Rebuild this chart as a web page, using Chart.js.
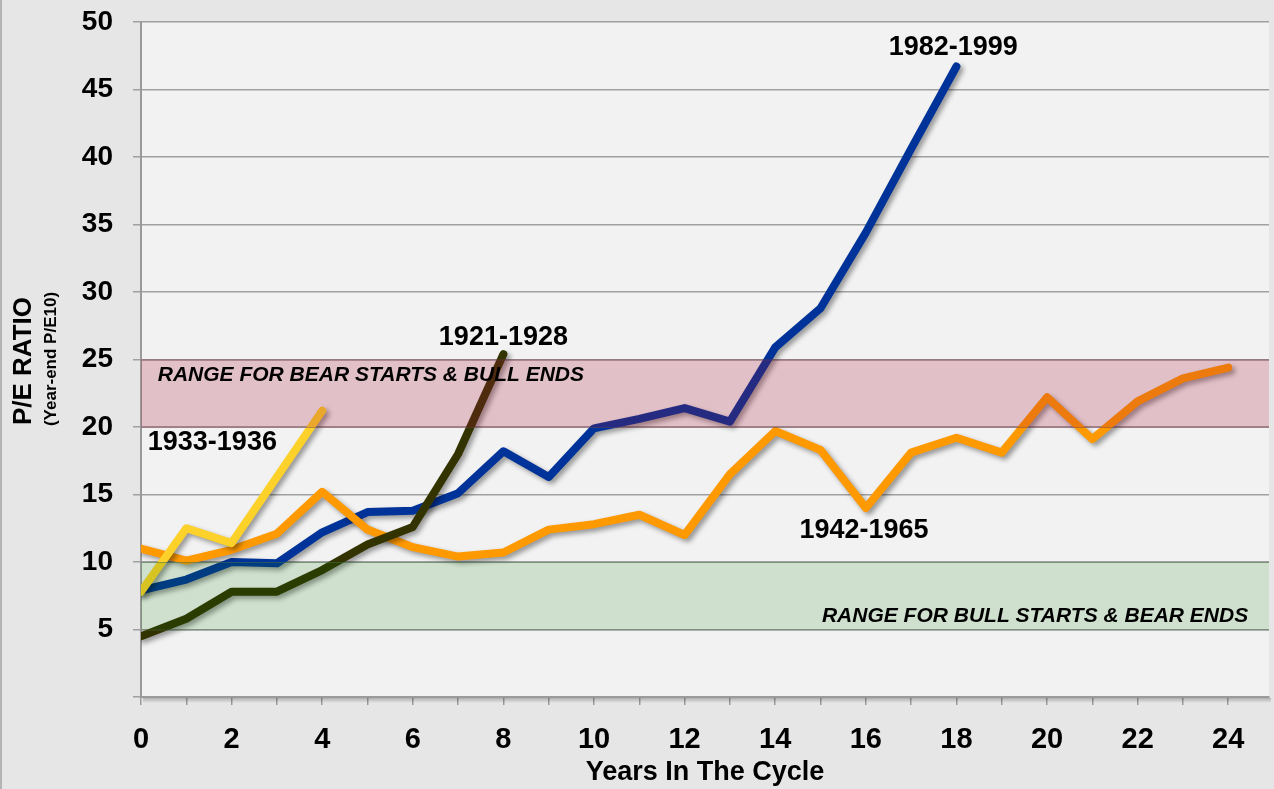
<!DOCTYPE html>
<html>
<head>
<meta charset="utf-8">
<title>P/E Ratio by Years In The Cycle</title>
<style>
  html, body { margin: 0; padding: 0; background: #e6e6e6; }
  #wrap { width: 1274px; height: 789px; position: relative; }
</style>
<script src="https://cdn.jsdelivr.net/npm/chart.js@4.4.1/dist/chart.umd.min.js"></script>
</head>
<body>
<div id="wrap"><canvas id="peChart" width="1274" height="789"></canvas></div>
<script>
// years in the cycle (x axis)
const years = [0, 1, 2, 3, 4, 5, 6, 7, 8, 9, 10, 11, 12, 13, 14, 15, 16, 17, 18, 19, 20, 21, 22, 23, 24];

// P/E10 at year end
const pe1921to1928 = [4.5, 5.8, 7.8, 7.8, 9.4, 11.3, 12.6, 18.0, 25.4];
const pe1933to1936 = [7.8, 12.5, 11.4, 16.3, 21.2];
const pe1942to1965 = [11.0, 10.1, 10.9, 12.1, 15.2, 12.4, 11.1, 10.4, 10.7, 12.4, 12.8, 13.5, 12.0,
                      16.5, 19.7, 18.3, 14.0, 18.1, 19.2, 18.1, 22.2, 19.1, 21.9, 23.6, 24.4];
const pe1982to1999 = [7.9, 8.7, 10.0, 9.9, 12.2, 13.7, 13.8, 15.1, 18.2, 16.3, 19.9, 20.6, 21.4,
                      20.4, 25.9, 28.8, 34.4, 40.6, 46.7];

// shaded ranges [low, high]
const bearStartRange = [20, 25];
const bullStartRange = [5, 10];

const FONT = '"Liberation Sans", Arial, sans-serif';

function toPoints(values) {
  return values.map((v, i) => ({ x: years[i], y: v }));
}

function makeLine(label, values, color, order) {
  return {
    label: label,
    data: toPoints(values),
    borderColor: color,
    backgroundColor: color,
    borderWidth: 8,
    borderCapStyle: "round",
    borderJoinStyle: "round",
    pointRadius: 0,
    pointHoverRadius: 0,
    tension: 0,
    fill: false,
    order: order,
    clip: { left: 0, top: 12, right: 12, bottom: 12 },
  };
}

// backgrounds: outer panel and plot area
const backgroundPlugin = {
  id: "backgrounds",
  beforeDraw(chart) {
    const { ctx, chartArea } = chart;
    ctx.save();
    ctx.fillStyle = "#e6e6e6";
    ctx.fillRect(0, 0, chart.width, chart.height);
    ctx.fillStyle = "#b4b4b4";
    ctx.fillRect(0, 0, 2, chart.height);
    ctx.fillStyle = "#f2f2f2";
    ctx.fillRect(chartArea.left, chartArea.top, chartArea.right - chartArea.left, chartArea.bottom - chartArea.top);
    ctx.restore();
  },
  beforeDatasetsDraw(chart) {
    // soft shadow under the x axis line
    const { ctx, chartArea } = chart;
    ctx.save();
    const g = ctx.createLinearGradient(0, chartArea.bottom, 0, chartArea.bottom + 6);
    g.addColorStop(0, "rgba(0,0,0,0.28)");
    g.addColorStop(1, "rgba(0,0,0,0)");
    ctx.fillStyle = g;
    ctx.fillRect(chartArea.left + 2, chartArea.bottom + 1, chartArea.right - chartArea.left, 6);
    ctx.restore();
  },
};

// drop shadow on every line
const shadowPlugin = {
  id: "lineShadow",
  beforeDatasetDraw(chart) {
    const ctx = chart.ctx;
    ctx.save();
    ctx.shadowColor = "rgba(0,0,0,0.38)";
    ctx.shadowBlur = 5;
    ctx.shadowOffsetX = 3;
    ctx.shadowOffsetY = 3;
  },
  afterDatasetDraw(chart) {
    chart.ctx.restore();
  },
};

// translucent range bands laid over the lines
const bandPlugin = {
  id: "bands",
  afterDatasetsDraw(chart) {
    const { ctx, chartArea, scales } = chart;
    const y = scales.y;
    const bands = [
      { range: bearStartRange, fill: "rgba(170,20,55,0.225)", edge: "rgba(110,60,75,0.5)" },
      { range: bullStartRange, fill: "rgba(0,118,0,0.145)", edge: "rgba(70,110,70,0.5)" },
    ];
    ctx.save();
    bands.forEach((b) => {
      const top = y.getPixelForValue(b.range[1]);
      const bottom = y.getPixelForValue(b.range[0]);
      ctx.fillStyle = b.fill;
      ctx.fillRect(chartArea.left, top, chartArea.right - chartArea.left, bottom - top);
      ctx.strokeStyle = b.edge;
      ctx.lineWidth = 1;
      ctx.beginPath();
      ctx.moveTo(chartArea.left, top + 0.5);
      ctx.lineTo(chartArea.right, top + 0.5);
      ctx.moveTo(chartArea.left, bottom + 0.5);
      ctx.lineTo(chartArea.right, bottom + 0.5);
      ctx.stroke();
    });
    ctx.restore();
  },
};

// series names, range captions and the y axis title
const notesPlugin = {
  id: "notes",
  afterDraw(chart) {
    const { ctx, scales } = chart;
    const xs = scales.x, ys = scales.y;
    const notes = chart.options.plugins.notes.items;
    ctx.save();
    ctx.fillStyle = "#000";
    ctx.textBaseline = "middle";
    notes.forEach((n) => {
      ctx.font = n.font;
      ctx.textAlign = n.align;
      ctx.fillText(n.text, xs.getPixelForValue(n.x), ys.getPixelForValue(n.y));
    });

    // y axis title, rotated
    ctx.translate(24, 361);
    ctx.rotate(-Math.PI / 2);
    ctx.textAlign = "center";
    ctx.font = "bold 26px " + FONT;
    ctx.fillText("P/E RATIO", 0, 0);
    ctx.font = "bold 17px " + FONT;
    ctx.fillText("(Year-end P/E10)", 2, 27);
    ctx.restore();
  },
};

const ctx = document.getElementById("peChart").getContext("2d");

new Chart(ctx, {
  type: "line",
  data: {
    datasets: [
      makeLine("1933-1936", pe1933to1936, "#fcd22a", 1),
      makeLine("1921-1928", pe1921to1928, "#333300", 2),
      makeLine("1942-1965", pe1942to1965, "#ff9900", 3),
      makeLine("1982-1999", pe1982to1999, "#003399", 4),
    ],
  },
  options: {
    responsive: false,
    devicePixelRatio: 1,
    animation: false,
    layout: {
      padding: { top: 22, right: 5, left: 0, bottom: 0 },
    },
    plugins: {
      legend: { display: false },
      tooltip: { enabled: false },
      notes: {
        items: [
          { text: "1982-1999", x: 17.93, y: 48.1, align: "center", font: "bold 27px " + FONT },
          { text: "1921-1928", x: 8.0, y: 26.6, align: "center", font: "bold 27px " + FONT },
          { text: "1933-1936", x: 0.15, y: 18.85, align: "left", font: "bold 27px " + FONT },
          { text: "1942-1965", x: 15.96, y: 12.3, align: "center", font: "bold 27px " + FONT },
          { text: "RANGE FOR BEAR STARTS & BULL ENDS", x: 0.37, y: 23.8, align: "left", font: "italic bold 21px " + FONT },
          { text: "RANGE FOR BULL STARTS & BEAR ENDS", x: 24.44, y: 5.96, align: "right", font: "italic bold 21px " + FONT },
        ],
      },
    },
    scales: {
      x: {
        type: "linear",
        min: 0,
        max: 24.9,
        afterFit(scale) {
          scale.height = 92;
          scale.paddingLeft = 0;
          scale.paddingRight = 0;
        },
        afterBuildTicks(scale) {
          scale.ticks = years.map((v) => ({ value: v }));
        },
        border: { display: true, color: "#9a9a9a", width: 2 },
        grid: {
          drawOnChartArea: false,
          drawTicks: true,
          tickLength: 8,
          color: "#9a9a9a",
          lineWidth: 1.5,
        },
        ticks: {
          autoSkip: false,
          maxRotation: 0,
          padding: 18,
          color: "#000",
          font: { family: FONT, size: 29, weight: "bold" },
          callback: (v) => (v % 2 === 0 ? String(v) : ""),
        },
        title: {
          display: true,
          text: "Years In The Cycle",
          color: "#000",
          font: { family: FONT, size: 27, weight: "bold" },
          padding: { top: 0, bottom: 0 },
        },
      },
      y: {
        type: "linear",
        min: 0,
        max: 50,
        afterFit(scale) {
          scale.width = 141;
          scale.paddingTop = 0;
          scale.paddingBottom = 0;
        },
        border: { display: true, color: "#9a9a9a", width: 2 },
        grid: {
          drawOnChartArea: true,
          drawTicks: true,
          tickLength: 8,
          color: "#a0a0a0",
          lineWidth: 1.5,
        },
        ticks: {
          stepSize: 5,
          padding: 20,
          color: "#000",
          font: { family: FONT, size: 28, weight: "bold" },
          callback: (v) => (v === 0 ? "" : String(v)),
        },
      },
    },
  },
  plugins: [backgroundPlugin, shadowPlugin, bandPlugin, notesPlugin],
});
</script>
</body>
</html>
